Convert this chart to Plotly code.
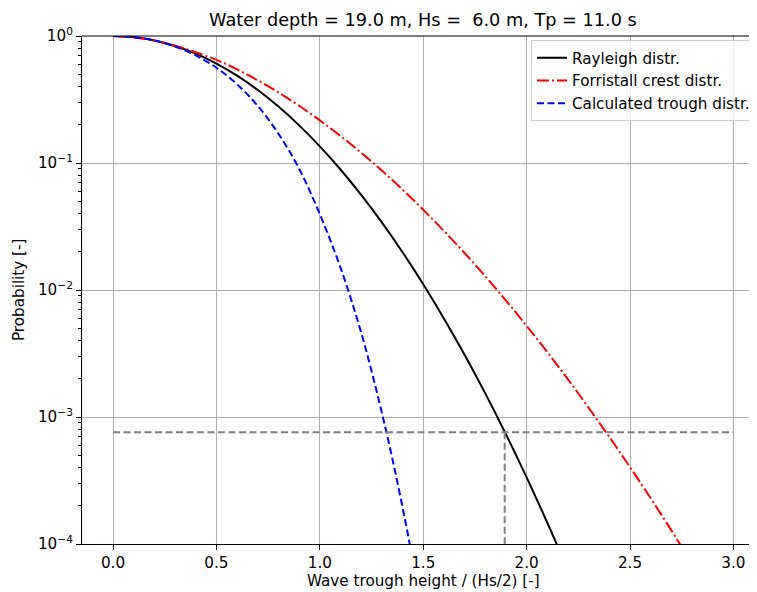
import plotly.graph_objects as go

# ---- data ----
x_ray = [0.0, 0.1, 0.2, 0.3, 0.4, 0.5, 0.6, 0.7, 0.8, 0.9, 1.0, 1.1, 1.2,
         1.3, 1.4, 1.5, 1.6, 1.7, 1.8, 1.9, 2.0, 2.1, 2.2, 2.3]
p_ray = [1.0, 0.9802, 0.9231, 0.8353, 0.7261, 0.6065, 0.4868, 0.3753, 0.2780,
         0.1979, 0.1353, 0.08892, 0.05613, 0.03405, 0.01984, 0.01111, 0.005976,
         0.003089, 0.001534, 7.32e-4, 3.35e-4, 1.47e-4, 6.25e-5, 2.54e-5]

x_forr = [0.0, 0.1, 0.2, 0.3, 0.4, 0.5, 0.6, 0.7, 0.8, 0.9, 1.0, 1.1, 1.2,
          1.3, 1.4, 1.5, 1.6, 1.7, 1.8, 1.9, 2.0, 2.1, 2.2, 2.3, 2.4, 2.5,
          2.6, 2.7, 2.8, 2.9, 3.0]
p_forr = [1.0, 0.975, 0.9195, 0.838, 0.745, 0.648, 0.546, 0.4474, 0.3595,
          0.2823, 0.2165, 0.1632, 0.1204, 0.0871, 0.0617, 0.0429, 0.0292,
          0.01956, 0.01283, 0.00826, 0.00522, 0.00324, 0.00198, 0.00118,
          6.96e-4, 4.03e-4, 2.29e-4, 1.28e-4, 7.0e-5, 3.8e-5, 2.0e-5]

x_trough = [0.0, 0.1, 0.2, 0.3, 0.4, 0.5, 0.6, 0.7, 0.8, 0.9, 1.0, 1.1, 1.2,
            1.3, 1.4, 1.5, 1.6]
p_trough = [1.0, 0.9801, 0.9213, 0.8272, 0.7042, 0.5627, 0.4167, 0.2814,
            0.1701, 0.0901, 0.0395, 0.0150, 0.00462, 0.00108, 1.95e-4,
            2.55e-5, 2.3e-6]

p_level = 7.57e-4          # horizontal reference probability
x_level = [0.0, 3.0]
x_cross = 1.894            # Rayleigh height at that probability

x_ticks = [0.0, 0.5, 1.0, 1.5, 2.0, 2.5, 3.0]
x_ticklabels = ["0.0", "0.5", "1.0", "1.5", "2.0", "2.5", "3.0"]
y_ticks = [1e-4, 1e-3, 1e-2, 1e-1, 1.0]
y_ticklabels = ["10<sup>\u22124</sup>", "10<sup>\u22123</sup>",
                "10<sup>\u22122</sup>", "10<sup>\u22121</sup>", "10<sup>0</sup>"]
y_minor = [m * 10.0 ** e for e in (-4, -3, -2, -1) for m in range(2, 10)]

title_text = "Water depth = 19.0 m, Hs = \u00a06.0 m, Tp = 11.0 s"
xlabel = "Wave trough height / (Hs/2) [-]"
ylabel = "Probability [-]"

FONT = "DejaVu Sans"
FS = 15.2
DASH = "7px,3.5px"

fig = go.Figure()
fig.add_trace(go.Scatter(x=x_ray, y=p_ray, mode="lines", name="Rayleigh distr.",
                         line=dict(color="black", width=2, shape="spline")))
fig.add_trace(go.Scatter(x=x_forr, y=p_forr, mode="lines", name="Forristall crest distr.",
                         line=dict(color="red", width=2, shape="spline",
                                   dash="12px,3px,2px,3px")))
fig.add_trace(go.Scatter(x=x_trough, y=p_trough, mode="lines", name="Calculated trough distr.",
                         line=dict(color="blue", width=2, shape="spline", dash=DASH)))
fig.add_trace(go.Scatter(x=x_level, y=[p_level, p_level], mode="lines", showlegend=False,
                         line=dict(color="gray", width=2, dash=DASH)))
fig.add_trace(go.Scatter(x=[x_cross, x_cross], y=[p_level, 1e-5], mode="lines", showlegend=False,
                         line=dict(color="gray", width=2, dash=DASH)))

# the page body has an 8px margin, so the figure is 8px smaller than the window
fig.update_layout(
    width=749, height=584,
    margin=dict(l=74, r=0, t=28, b=48),
    paper_bgcolor="white", plot_bgcolor="white",
    font=dict(family=FONT, size=FS, color="black"),
    title=dict(text=title_text, x=0.554, xref="container", xanchor="center",
               y=0.9795, yref="container", yanchor="middle",
               font=dict(family=FONT, size=17.7, color="black")),
    legend=dict(x=0.9985, y=0.9915, xanchor="right", yanchor="top",
                bgcolor="rgba(255,255,255,0.8)", bordercolor="#cccccc", borderwidth=1,
                font=dict(family=FONT, size=FS, color="black")),
    showlegend=True,
)
fig.update_xaxes(range=[-0.15, 3.114], tickvals=x_ticks, ticktext=x_ticklabels,
                 showgrid=True, gridcolor="#b0b0b0", gridwidth=1,
                 showline=True, linecolor="black", linewidth=1, mirror=False,
                 ticks="outside", ticklen=5, tickwidth=1, tickcolor="black",
                 zeroline=False, automargin=False, tickfont=dict(family=FONT, size=FS))
fig.update_yaxes(type="log", range=[-4, 0], tickvals=y_ticks, ticktext=y_ticklabels,
                 showgrid=True, gridcolor="#b0b0b0", gridwidth=1,
                 showline=True, linecolor="black", linewidth=1, mirror=False,
                 ticks="outside", ticklen=5, tickwidth=1, tickcolor="black",
                 zeroline=False, automargin=False, tickfont=dict(family=FONT, size=FS),
                 minor=dict(tickvals=y_minor, ticks="outside", ticklen=3,
                            tickwidth=0.8, tickcolor="black", showgrid=False))

# top spine
fig.add_shape(type="line", xref="paper", yref="paper", x0=0, x1=1, y0=1, y1=1,
              line=dict(color="black", width=1))

# axis labels
fig.add_annotation(text=xlabel, xref="paper", yref="paper", x=0.5056, y=-0.0728,
                   xanchor="center", yanchor="middle", showarrow=False,
                   font=dict(family=FONT, size=FS, color="black"))
fig.add_annotation(text=ylabel, xref="paper", yref="paper", x=-0.0933, y=0.5,
                   xanchor="center", yanchor="middle", showarrow=False, textangle=-90,
                   font=dict(family=FONT, size=FS, color="black"))

fig.write_html("out.html")
